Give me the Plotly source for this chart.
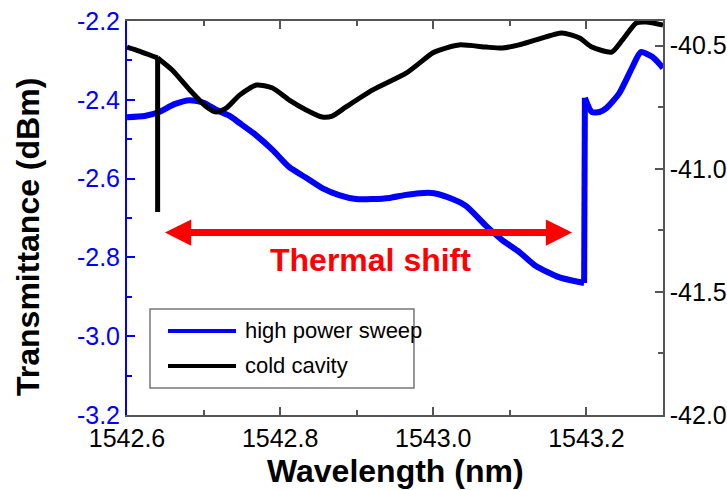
import plotly.graph_objects as go

# ---- data ----
# None marks a break so that the steep jump / spike are drawn as straight vertical strokes
series_names = ["high power sweep", "cold cavity"]

wl_hot = [1542.600, 1542.623, 1542.642, 1542.662, 1542.682, 1542.701, 1542.717, 1542.734,
          1542.747, 1542.768, 1542.790, 1542.812, 1542.834, 1542.855, 1542.877, 1542.899,
          1542.920, 1542.943, 1542.962, 1542.982, 1543.001, 1543.025, 1543.043, 1543.069,
          1543.090, 1543.112, 1543.134, 1543.164, 1543.184, 1543.197, None,
          1543.197, 1543.198, None,
          1543.198, 1543.207,
          1543.217, 1543.226, 1543.243, 1543.260, 1543.271, 1543.286, 1543.300]
t_hot = [-2.444, -2.441, -2.431, -2.411, -2.401, -2.408, -2.426, -2.441,
         -2.459, -2.489, -2.527, -2.571, -2.598, -2.624, -2.642, -2.652,
         -2.652, -2.649, -2.642, -2.637, -2.637, -2.652, -2.670, -2.720,
         -2.756, -2.786, -2.822, -2.850, -2.860, -2.865, None,
         -2.865, -2.395, None,
         -2.395, -2.431,
         -2.431, -2.421, -2.383, -2.317, -2.279, -2.291, -2.319]

wl_cold = [1542.600, 1542.616, 1542.633, 1542.640, None,
           1542.640, 1542.640, None,
           1542.640, 1542.659, 1542.682,
           1542.704, 1542.717, 1542.730, 1542.747, 1542.769, 1542.790, 1542.812, 1542.834,
           1542.855, 1542.868, 1542.886, 1542.921, 1542.965, 1542.999, 1543.008, 1543.034,
           1543.069, 1543.090, 1543.112, 1543.134, 1543.168, 1543.191, 1543.207, 1543.233,
           1543.247, 1543.265, 1543.278, 1543.300]
t_cold = [-40.506, -40.522, -40.542, -40.550, None,
          -40.545, -41.176, None,
          -40.550, -40.599, -40.680,
          -40.749, -40.770, -40.753, -40.701, -40.660, -40.672, -40.721, -40.761,
          -40.790, -40.786, -40.749, -40.680, -40.611, -40.530, -40.518, -40.497,
          -40.506, -40.510, -40.497, -40.477, -40.449, -40.469, -40.506, -40.526,
          -40.477, -40.408, -40.404, -40.416]

x_ticks = [1542.6, 1542.8, 1543.0, 1543.2]
x_ticktext = ["1542.6", "1542.8", "1543.0", "1543.2"]
y_ticks = [-2.2, -2.4, -2.6, -2.8, -3.0, -3.2]
y_ticktext = ["-2.2", "-2.4", "-2.6", "-2.8", "-3.0", "-3.2"]
y2_ticks = [-40.5, -41.0, -41.5, -42.0]
y2_ticktext = ["-40.5", "-41.0", "-41.5", "-42.0"]

shift_start = 1543.1813
shift_end = 1542.6476
shift_level = -2.737

FONT = "Arial, Liberation Sans, sans-serif"
BLUE = "#0000ff"
FRAME = "#555555"
TICK_SIZE = 25

fig = go.Figure()
fig.add_trace(go.Scatter(x=wl_hot, y=t_hot, mode="lines", name=series_names[0], connectgaps=False,
                         line=dict(color=BLUE, width=6, shape="spline", smoothing=0.6), yaxis="y"))
fig.add_trace(go.Scatter(x=wl_cold, y=t_cold, mode="lines", name=series_names[1], connectgaps=False,
                         line=dict(color="black", width=5, shape="spline", smoothing=0.6), yaxis="y2"))

fig.update_layout(
    width=727, height=490,
    margin=dict(l=127, r=64, t=21, b=75, autoexpand=False),
    paper_bgcolor="white", plot_bgcolor="white",
    showlegend=False,
    font=dict(family=FONT, color="black", size=TICK_SIZE),
    xaxis=dict(range=[1542.6, 1543.3], tickvals=x_ticks, ticktext=x_ticktext, automargin=False,
               showgrid=False, zeroline=False, showline=True, linecolor=FRAME, linewidth=1.5,
               mirror="ticks", ticks="inside", ticklen=8, tickwidth=1.5, tickcolor=FRAME,
               minor=dict(dtick=0.1, ticks="inside", ticklen=5, tickwidth=1.5, tickcolor=FRAME, showgrid=False),
               tickfont=dict(size=TICK_SIZE, color="black", family=FONT)),
    yaxis=dict(range=[-3.2, -2.2], tickvals=y_ticks, ticktext=y_ticktext, automargin=False,
               showgrid=False, zeroline=False, showline=True, linecolor=BLUE, linewidth=2,
               ticks="inside", ticklen=8, tickwidth=1.5, tickcolor=BLUE,
               minor=dict(dtick=0.1, ticks="inside", ticklen=5, tickwidth=1.5, tickcolor=BLUE, showgrid=False),
               tickfont=dict(size=TICK_SIZE, color=BLUE, family=FONT)),
    yaxis2=dict(range=[-42.0, -40.4], tickvals=y2_ticks, ticktext=y2_ticktext, automargin=False,
                overlaying="y", side="right",
                showgrid=False, zeroline=False, showline=True, linecolor=FRAME, linewidth=1.5,
                ticks="inside", ticklen=8, tickwidth=1.5, tickcolor=FRAME,
                minor=dict(dtick=0.25, ticks="inside", ticklen=5, tickwidth=1.5, tickcolor=FRAME, showgrid=False),
                tickfont=dict(size=TICK_SIZE, color="black", family=FONT)),
)

annotations = [
    dict(text="<b>Wavelength (nm)</b>", xref="paper", yref="paper", x=0.5, y=-0.142,
         xanchor="center", yanchor="middle", showarrow=False,
         font=dict(size=32, color="black", family=FONT)),
    dict(text="<b>Transmittance (dBm)</b>", xref="paper", yref="paper", x=-0.1847, y=0.4518,
         xanchor="center", yanchor="middle", textangle=-90, showarrow=False,
         font=dict(size=32, color="black", family=FONT)),
    dict(text="", x=shift_start, y=shift_level, ax=shift_end, ay=shift_level,
         xref="x", yref="y", axref="x", ayref="y", showarrow=True,
         arrowhead=2, startarrowhead=2, arrowside="end+start",
         arrowwidth=7, arrowsize=0.75, startarrowsize=0.75, arrowcolor="#ff0000"),
    dict(text="<b>Thermal shift</b>", xref="paper", yref="paper", x=0.4534, y=0.3934,
         xanchor="center", yanchor="middle", showarrow=False,
         font=dict(size=32, color="#ff0000", family=FONT)),
]

# manual legend (long line samples like the original)
leg_x0, leg_x1, leg_y0, leg_y1 = 0.0429, 0.5354, 0.0685, 0.269
shapes = [dict(type="rect", xref="paper", yref="paper", x0=leg_x0, x1=leg_x1, y0=leg_y0, y1=leg_y1,
               line=dict(color="#777777", width=1.5), fillcolor="white", layer="above")]
legend_rows = [0.2132, 0.1244]
legend_colors = [BLUE, "black"]
for name, yy, col in zip(series_names, legend_rows, legend_colors):
    shapes.append(dict(type="line", xref="paper", yref="paper", x0=0.0765, x1=0.2034, y0=yy, y1=yy,
                       line=dict(color=col, width=4), layer="above"))
    annotations.append(dict(text=name, xref="paper", yref="paper", x=0.2164, y=yy,
                            xanchor="left", yanchor="middle", showarrow=False,
                            font=dict(size=22, color="black", family=FONT)))

fig.update_layout(annotations=annotations, shapes=shapes)
fig.write_html("out.html")
